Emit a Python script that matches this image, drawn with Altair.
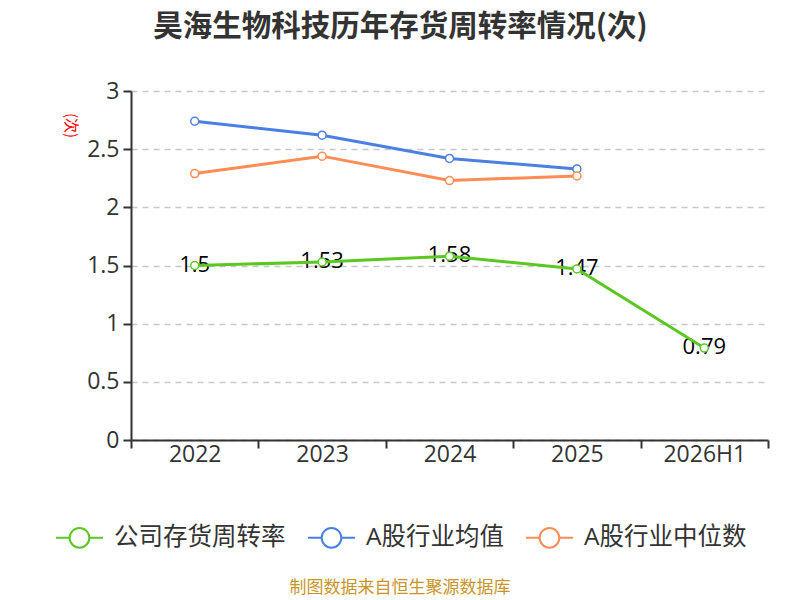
import altair as alt
import pandas as pd

years = ["2022", "2023", "2024", "2025", "2026H1"]
company = [1.5, 1.53, 1.58, 1.47, 0.79]
ind_mean_years = ["2022", "2023", "2024", "2025"]
ind_mean = [2.74, 2.62, 2.42, 2.33]
ind_median = [2.29, 2.44, 2.23, 2.27]

s_company = "公司存货周转率"
s_mean = "A股行业均值"
s_median = "A股行业中位数"
series_order = [s_company, s_mean, s_median]
colors = ["#5bc722", "#4b7fe2", "#ff8c55"]
footer_text = ["制图数据来自恒生聚源数据库"]

rows = []
for y, v in zip(years, company):
    rows.append({"year": y, "value": v, "series": s_company})
for y, v in zip(ind_mean_years, ind_mean):
    rows.append({"year": y, "value": v, "series": s_mean})
for y, v in zip(ind_mean_years, ind_median):
    rows.append({"year": y, "value": v, "series": s_median})
df = pd.DataFrame(rows)
df_company = df[df["series"] == s_company]

FONT = "Open Sans, Noto Sans CJK SC"
CJK = "Noto Sans CJK SC"
sym = ("M-1,0L-0.42,0M0.42,0L1,0"
       "M0.42,0A0.42,0.42,0,1,1,-0.42,0A0.42,0.42,0,1,1,0.42,0Z")

x_enc = alt.X(
    "year:N",
    sort=years,
    scale=alt.Scale(domain=years, paddingInner=0, paddingOuter=0),
    axis=alt.Axis(
        title=None, labelAngle=0, labelAlign="center", labelFontSize=23,
        labelColor="#333333", labelFont=FONT, labelPadding=6,
        domainColor="#333333", domainWidth=2,
        tickColor="#333333", tickWidth=2, tickSize=8, tickBand="extent",
        grid=False,
    ),
)
y_enc = alt.Y(
    "value:Q",
    scale=alt.Scale(domain=[0, 3], nice=False),
    axis=alt.Axis(
        values=[0, 0.5, 1, 1.5, 2, 2.5, 3],
        labelExpr="format(datum.value, '~g')",
        labelFontSize=23, labelColor="#333333", labelFont=FONT, labelPadding=4,
        domainColor="#333333", domainWidth=2, tickColor="#333333", tickWidth=2,
        tickSize=8, grid=True, gridColor="#c8c8c8", gridDash=[6, 5],
        gridWidth=1.5,
        title="(次)", titleColor="#ff0000", titleFontSize=15, titleFont=CJK,
        titleFontWeight="normal", titleAngle=90, titleX=-61, titleY=34,
        titleAlign="center", titleBaseline="middle",
    ),
)
color_enc = alt.Color(
    "series:N",
    scale=alt.Scale(domain=series_order, range=colors),
    sort=series_order,
    legend=alt.Legend(
        title=None, orient="none", legendX=-76, legendY=422,
        direction="horizontal", symbolType=sym, symbolSize=2200,
        symbolStrokeWidth=2, symbolFillColor="white", labelFontSize=24.5,
        labelFont=FONT, labelColor="#333333", labelLimit=300,
        columnPadding=18, labelOffset=10,
    ),
)

lines = alt.Chart(df).mark_line(
    strokeWidth=3,
    point=alt.OverlayMarkDef(filled=False, fill="white", fillOpacity=1,
                             size=64, strokeWidth=1.5),
).encode(x=x_enc, y=y_enc, color=color_enc, detail="series:N")

labels = alt.Chart(df_company).mark_text(
    fontSize=22, font=FONT, color="#000000", baseline="middle", dy=-1
).encode(
    x=alt.X("year:N", sort=years),
    y=alt.Y("value:Q"),
    text=alt.Text("value:Q"),
)

footer = alt.Chart(pd.DataFrame({"t": footer_text})).mark_text(
    fontSize=17, font=CJK, color="#c8952a", align="center", baseline="middle"
).encode(
    text="t:N",
    x=alt.value(400 - 131),
    y=alt.value(588 - 91),
)

chart = alt.layer(labels, lines, footer).properties(
    width=637,
    height=349,
    padding={"left": 123, "top": 83, "right": 24, "bottom": 160},
    autosize=alt.AutoSizeParams(type="none"),
    title=alt.TitleParams(
        text="昊海生物科技历年存货周转率情况(次)",
        fontSize=29.5, font=CJK, fontWeight="bold", color="#333333",
        anchor="middle", dx=-49, offset=38,
    ),
).configure_view(stroke=None)

chart.save("out.html", embed_options={"renderer": "svg", "actions": False})
